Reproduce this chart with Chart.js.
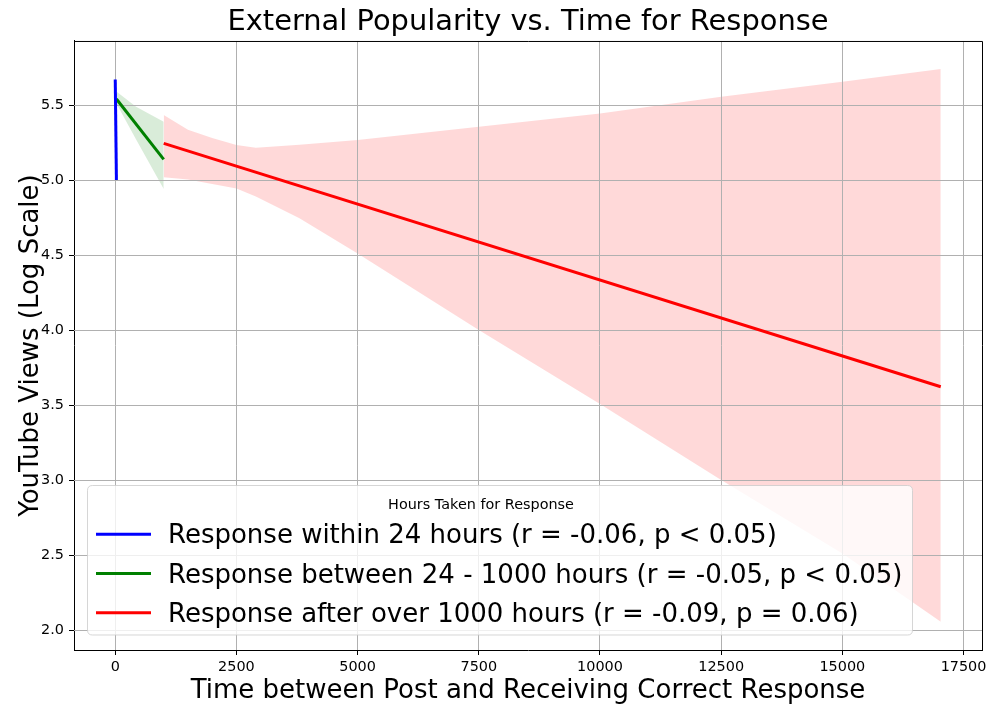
<!DOCTYPE html>
<html>
<head>
<meta charset="utf-8">
<script src="https://cdn.jsdelivr.net/npm/chart.js@4.4.1/dist/chart.umd.min.js"></script>
<style>
  html, body { margin: 0; padding: 0; background: #fff; }
  #wrap { width: 997px; height: 715px; }
</style>
</head>
<body>
<div id="wrap"><canvas id="c" width="997" height="715"></canvas></div>
<script>
// ---- data ----
const seriesLabels = [
  'Response within 24 hours (r = -0.06, p < 0.05)',
  'Response between 24 - 1000 hours (r = -0.05, p < 0.05)',
  'Response after over 1000 hours (r = -0.09, p = 0.06)'
];
const blueX = [0, 24];
const blueY = [5.67, 5.00];
const greenX = [24, 1000];
const greenY = [5.54, 5.138];
const redX = [1000, 17030];
const redY = [5.244, 3.622];

const greenBandX = [24, 430, 1000];
const greenBandUpper = [5.59, 5.489, 5.389];
const greenBandLower = [5.51, 5.27, 4.94];

const redBandX = [1000, 1500, 2000, 2500, 2900, 3800, 5000, 7500, 10000, 12500, 15000, 17030];
const redBandUpper = [5.433, 5.335, 5.28, 5.233, 5.216, 5.235, 5.267, 5.356, 5.444, 5.556, 5.655, 5.74];
const redBandLower = [5.018, 5.004, 4.974, 4.944, 4.89, 4.745, 4.511, 4.0, 3.507, 3.0, 2.51, 2.055];

const xTickValues = [0, 2500, 5000, 7500, 10000, 12500, 15000, 17500];
const yTickValues = [2.0, 2.5, 3.0, 3.5, 4.0, 4.5, 5.0, 5.5];

const titleText = 'External Popularity vs. Time for Response';
const xTitle = 'Time between Post and Receiving Correct Response';
const yTitle = 'YouTube Views (Log Scale)';
const legendTitle = 'Hours Taken for Response';

// ---- helpers ----
const pts = (xs, ys) => xs.map((x, i) => ({x: x, y: ys[i]}));
const FONT = "'DejaVu Sans', sans-serif";
const lineColors = ['#0000ff', '#008000', '#ff0000'];
const GRID = '#b0b0b0';

const bandStyle = {borderWidth: 0, borderColor: 'rgba(0,0,0,0)', pointRadius: 0, tension: 0, order: 2};
const lineStyle = {borderWidth: 3, pointRadius: 0, tension: 0, fill: false, order: 0, borderCapStyle: 'butt'};

const datasets = [
  Object.assign({label: 'redLower', data: pts(redBandX, redBandLower), fill: false}, bandStyle),
  Object.assign({label: 'redUpper', data: pts(redBandX, redBandUpper), fill: '-1', backgroundColor: 'rgba(255,0,0,0.15)'}, bandStyle),
  Object.assign({label: 'greenLower', data: pts(greenBandX, greenBandLower), fill: false}, bandStyle),
  Object.assign({label: 'greenUpper', data: pts(greenBandX, greenBandUpper), fill: '-1', backgroundColor: 'rgba(0,128,0,0.15)'}, bandStyle),
  Object.assign({label: seriesLabels[0], data: pts(blueX, blueY), borderColor: lineColors[0], isSeries: true}, lineStyle),
  Object.assign({label: seriesLabels[1], data: pts(greenX, greenY), borderColor: lineColors[1], isSeries: true}, lineStyle),
  Object.assign({label: seriesLabels[2], data: pts(redX, redY), borderColor: lineColors[2], isSeries: true}, lineStyle)
];

// matplotlib draws the grid above the confidence bands but below the lines
let gridDrawn = false;
const gridOverBandsPlugin = {
  id: 'gridOverBands',
  beforeDatasetsDraw() { gridDrawn = false; },
  beforeDatasetDraw(chart, args) {
    const ds = chart.data.datasets[args.index];
    if (gridDrawn || !ds.isSeries) return;
    gridDrawn = true;
    const {ctx, chartArea: a, scales} = chart;
    ctx.save();
    ctx.strokeStyle = GRID;
    ctx.lineWidth = 1;
    ctx.beginPath();
    scales.x.ticks.forEach(t => {
      const px = Math.round(scales.x.getPixelForValue(t.value) - 0.5) + 0.5;
      ctx.moveTo(px, a.top); ctx.lineTo(px, a.bottom);
    });
    scales.y.ticks.forEach(t => {
      const py = Math.round(scales.y.getPixelForValue(t.value) - 0.5) + 0.5;
      ctx.moveTo(a.left, py); ctx.lineTo(a.right, py);
    });
    ctx.stroke();
    ctx.restore();
  }
};

const framePlugin = {
  id: 'frame',
  afterDatasetsDraw(chart) {
    const {ctx, chartArea: a} = chart;
    ctx.save();
    ctx.strokeStyle = '#000';
    ctx.lineWidth = 1;
    ctx.beginPath();
    ctx.moveTo(a.left, a.top + 0.5);
    ctx.lineTo(a.right + 0.5, a.top + 0.5);
    ctx.lineTo(a.right + 0.5, a.bottom);
    ctx.stroke();
    ctx.restore();
  }
};

const legendPlugin = {
  id: 'boxLegend',
  afterDraw(chart) {
    const {ctx} = chart;
    const bx = 87.5, by = 485.5, bw = 825, bh = 149.5, r = 5;
    ctx.save();
    ctx.beginPath();
    ctx.moveTo(bx + r, by);
    ctx.lineTo(bx + bw - r, by);
    ctx.quadraticCurveTo(bx + bw, by, bx + bw, by + r);
    ctx.lineTo(bx + bw, by + bh - r);
    ctx.quadraticCurveTo(bx + bw, by + bh, bx + bw - r, by + bh);
    ctx.lineTo(bx + r, by + bh);
    ctx.quadraticCurveTo(bx, by + bh, bx, by + bh - r);
    ctx.lineTo(bx, by + r);
    ctx.quadraticCurveTo(bx, by, bx + r, by);
    ctx.closePath();
    ctx.fillStyle = 'rgba(255,255,255,0.8)';
    ctx.fill();
    ctx.strokeStyle = 'rgba(204,204,204,0.8)';
    ctx.lineWidth = 1;
    ctx.stroke();

    ctx.fillStyle = '#000';
    ctx.textBaseline = 'alphabetic';
    ctx.textAlign = 'center';
    ctx.font = '14.4px ' + FONT;
    ctx.fillText(legendTitle, 481, 509.3);

    const series = chart.data.datasets.filter(d => d.isSeries);
    const baselines = [543.3, 582.5, 621.7];
    ctx.textAlign = 'left';
    ctx.font = '26px ' + FONT;
    series.forEach((d, i) => {
      const yb = baselines[i];
      ctx.strokeStyle = d.borderColor;
      ctx.lineWidth = 3;
      ctx.beginPath();
      ctx.moveTo(96, yb - 9);
      ctx.lineTo(151, yb - 9);
      ctx.stroke();
      ctx.fillStyle = '#000';
      ctx.fillText(d.label, 168, yb);
    });
    ctx.restore();
  }
};

new Chart(document.getElementById('c'), {
  type: 'line',
  data: {datasets: datasets},
  plugins: [gridOverBandsPlugin, framePlugin, legendPlugin],
  options: {
    responsive: false,
    animation: false,
    devicePixelRatio: 1,
    layout: {padding: {left: 0, right: 15, top: 0, bottom: 0}},
    plugins: {
      legend: {display: false},
      tooltip: {enabled: false},
      title: {
        display: true,
        text: titleText,
        fullSize: false,
        color: '#000',
        font: {family: FONT, size: 28.9, weight: 'normal', lineHeight: 1.2},
        padding: {top: 5.2, bottom: 1.1}
      }
    },
    scales: {
      x: {
        type: 'linear',
        min: -851,
        max: 17881,
        afterBuildTicks: s => { s.ticks = xTickValues.map(v => ({value: v})); },
        afterFit: s => { s.height = 65; },
        ticks: {
          color: '#000',
          font: {family: FONT, size: 14.4},
          padding: 4,
          maxRotation: 0,
          autoSkip: false,
          callback: v => String(v)
        },
        grid: {color: GRID, lineWidth: 1, drawOnChartArea: false, drawTicks: true, tickLength: 5, tickColor: '#000', tickWidth: 1},
        border: {display: true, color: '#000', width: 1},
        title: {
          display: true,
          text: xTitle,
          color: '#000',
          font: {family: FONT, size: 26, lineHeight: 1.2},
          padding: {top: 0, bottom: 8}
        }
      },
      y: {
        type: 'linear',
        min: 1.867,
        max: 5.927,
        afterBuildTicks: s => { s.ticks = yTickValues.map(v => ({value: v})); },
        afterFit: s => { s.width = 74; },
        ticks: {
          color: '#000',
          font: {family: FONT, size: 14.4},
          padding: 5,
          autoSkip: false,
          callback: v => v.toFixed(1)
        },
        grid: {color: GRID, lineWidth: 1, drawOnChartArea: false, drawTicks: true, tickLength: 5, tickColor: '#000', tickWidth: 1},
        border: {display: true, color: '#000', width: 1},
        title: {
          display: true,
          text: yTitle,
          color: '#000',
          font: {family: FONT, size: 26, lineHeight: 1.2},
          padding: {top: 16, bottom: 0}
        }
      }
    }
  }
});
</script>
</body>
</html>
